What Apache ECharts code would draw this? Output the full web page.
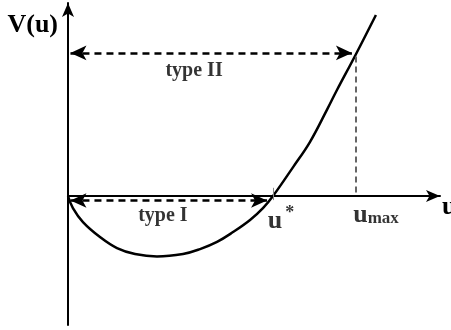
<!DOCTYPE html>
<html><head><meta charset="utf-8">
<script src="https://cdn.jsdelivr.net/npm/echarts@6/dist/echarts.min.js"></script>
<style>html,body{margin:0;padding:0;background:#fff}#c{width:451px;height:330px}</style>
</head><body><div id="c"></div>
<script>
// Potential curve V(u)
const curveU = [0, 0.024, 0.073, 0.156, 0.239, 0.327, 0.434, 0.561, 0.644, 0.727, 0.805, 0.888, 0.951, 1.0, 1.098, 1.180, 1.263, 1.312, 1.400, 1.502];
const curveV = [0, -0.059, -0.127, -0.200, -0.254, -0.283, -0.295, -0.283, -0.259, -0.224, -0.176, -0.117, -0.059, 0, 0.141, 0.263, 0.420, 0.517, 0.683, 0.883];
const uStar = 1.0;
const uMax = 1.405;
const vAtUMax = 0.68;
// dashed arrows: [uStart, uEnd, level]
const typeI = [0.012, 0.971, -0.022];
const typeII = [0.012, 1.385, 0.698];
// text labels
const labelTexts = ['type I', 'type II'];
const labelU = [0.463, 0.615];
const labelV = [-0.05, 0.66];

const F = 'Liberation Serif, Times New Roman, serif';
const chart = echarts.init(document.getElementById('c'));
const arrowLine = (a) => [{coord: [a[0], a[2]]}, {coord: [a[1], a[2]]}];
chart.setOption({
  animation: false,
  grid: {left: 68, right: 11, top: 3, bottom: 5, containLabel: false, outerBoundsMode: 'none'},
  xAxis: {
    type: 'value', min: 0, max: 1.8146,
    splitLine: {show: false}, axisTick: {show: false}, axisLabel: {show: false},
    axisLine: {onZero: true, lineStyle: {color: '#000', width: 2}, symbol: ['none', 'arrow'], symbolSize: [9, 14]},
    name: 'u', nameLocation: 'end', nameGap: 2,
    nameTextStyle: {fontFamily: F, fontWeight: 'bold', fontSize: 26, color: '#000', align: 'left', verticalAlign: 'top', padding: [-2, 0, 0, 0]}
  },
  yAxis: {
    type: 'value', min: -0.6293, max: 0.9415,
    splitLine: {show: false}, axisTick: {show: false}, axisLabel: {show: false},
    axisLine: {onZero: false, lineStyle: {color: '#000', width: 2}, symbol: ['none', 'arrow'], symbolSize: [9, 14]},
    name: 'V(u)', nameLocation: 'end', nameGap: -9,
    nameTextStyle: {fontFamily: F, fontWeight: 'bold', fontSize: 26, color: '#000', align: 'right', verticalAlign: 'top', padding: [0, 10, 0, 0]}
  },
  series: [
    {
      type: 'line', data: curveU.map((u, i) => [u, curveV[i]]), smooth: 0.4,
      showSymbol: false, lineStyle: {color: '#000', width: 2.5}, z: 3,
      markLine: {
        silent: true, symbol: ['none', 'none'], label: {show: false},
        data: [
          [{coord: [uMax, vAtUMax], lineStyle: {color: '#666', width: 2, type: [6, 4]}}, {coord: [uMax, 0]}],
          [{coord: [uStar, 0.04], lineStyle: {color: '#888', width: 1, type: 'solid'}}, {coord: [uStar, -0.02]}]
        ]
      }
    },
    {
      type: 'line', data: [],
      markLine: {
        silent: true, symbol: ['arrow', 'arrow'], symbolSize: [11, 16], label: {show: false},
        lineStyle: {color: '#000', width: 2.5, type: [7, 5]},
        data: [arrowLine(typeI), arrowLine(typeII)]
      }
    },
    {
      type: 'scatter', symbolSize: 0, z: 5,
      data: [
        {value: [labelU[0], labelV[0]], label: {formatter: labelTexts[0]}},
        {value: [labelU[1], labelV[1]], label: {formatter: labelTexts[1]}},
        {value: [uStar, 0], label: {formatter: '{b|u}{s|*}', position: 'bottom', distance: 8, offset: [8, 0]}},
        {value: [uMax, 0], label: {formatter: '{b|u}{m|max}', position: 'bottom', distance: 6, offset: [20, 0]}}
      ],
      label: {
        show: true, position: 'bottom', distance: 0, color: '#000',
        fontFamily: F, fontWeight: 'bold', fontSize: 20,
        rich: {
          b: {fontFamily: F, fontWeight: 'bold', fontSize: 26, color: '#000'},
          s: {fontFamily: F, fontWeight: 'bold', fontSize: 18, color: '#000', padding: [0, 0, 16, 3]},
          m: {fontFamily: F, fontWeight: 'bold', fontSize: 17, color: '#000', padding: [8, 0, 0, 0]}
        }
      }
    }
  ]
});
</script></body></html>
